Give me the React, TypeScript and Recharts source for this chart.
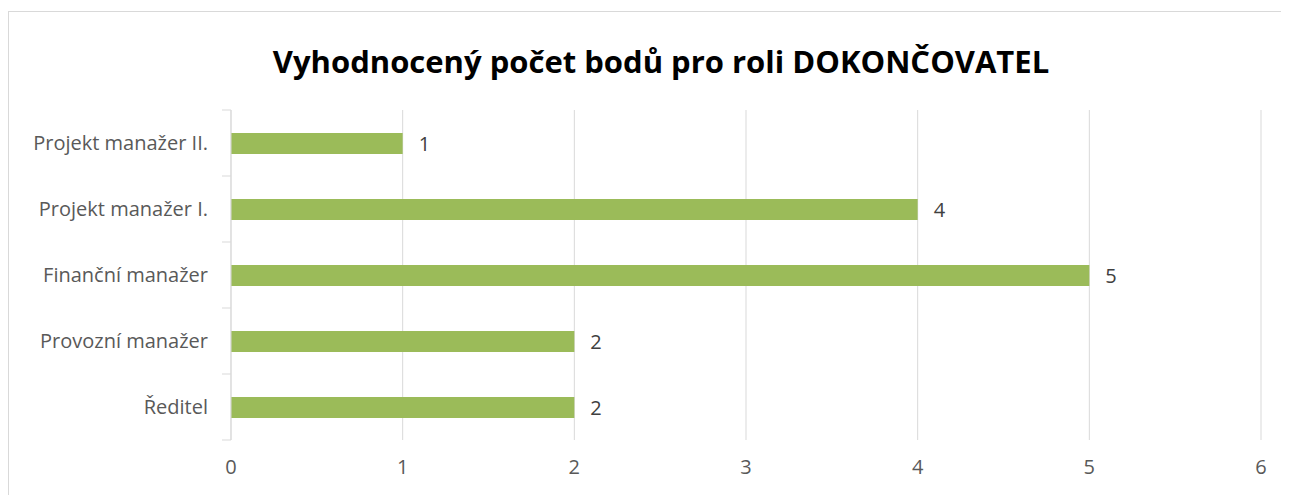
import React from 'react';
import {
  BarChart,
  Bar,
  XAxis,
  YAxis,
  CartesianGrid,
  LabelList,
} from 'recharts';

const roles = [
  'Projekt manažer II.',
  'Projekt manažer I.',
  'Finanční manažer',
  'Provozní manažer',
  'Ředitel',
];
const points = [1, 4, 5, 2, 2];
const xTicks = [0, 1, 2, 3, 4, 5, 6];

const data = roles.map((role, i) => ({ role, body: points[i] }));

const FONT = '"Open Sans", Lato, sans-serif';
const BAND = 66;

const RoleTick = ({ x, y, payload, index }: any) => (
  <g>
    <text
      x={x - 23}
      y={y}
      dy="0.35em"
      textAnchor="end"
      fill="#595959"
      fontSize={20}
      fontFamily={FONT}
    >
      {payload.value}
    </text>
    <line x1={x - 9} x2={x} y1={y - BAND / 2} y2={y - BAND / 2} stroke="#d9d9d9" />
    {index === roles.length - 1 && (
      <line x1={x - 9} x2={x} y1={y + BAND / 2} y2={y + BAND / 2} stroke="#d9d9d9" />
    )}
  </g>
);

export default function App() {
  return (
    <div style={{ position: 'relative', width: 1281, height: 487, overflow: 'hidden' }}>
      <div
        style={{
          position: 'absolute',
          left: 0,
          top: 3,
          width: 1400,
          height: 600,
          border: '1px solid #d9d9d9',
        }}
      />
      <div
        style={{
          position: 'absolute',
          left: 0,
          width: 1306,
          top: 35,
          lineHeight: '36px',
          textAlign: 'center',
          fontFamily: FONT,
          fontWeight: 'bold',
          fontSize: 31,
          color: '#000',
        }}
      >
        Vyhodnocený počet bodů pro roli DOKONČOVATEL
      </div>
      <BarChart
        width={1281}
        height={487}
        data={data}
        layout="vertical"
        margin={{ top: 102, right: 28, left: 0, bottom: 25 }}
      >
        <CartesianGrid horizontal={false} stroke="#d9d9d9" />
        <XAxis
          type="number"
          domain={[0, 6]}
          ticks={xTicks}
          axisLine={false}
          tickLine={false}
          tickSize={0}
          tickMargin={20}
          height={30}
          tick={{ fill: '#595959', fontSize: 20, fontFamily: FONT }}
        />
        <YAxis
          type="category"
          dataKey="role"
          width={223}
          axisLine={{ stroke: '#d9d9d9' }}
          tickLine={false}
          tickSize={0}
          tickMargin={0}
          tick={<RoleTick />}
        />
        <Bar dataKey="body" fill="#9bbb59" barSize={21} isAnimationActive={false}>
          <LabelList
            dataKey="body"
            position="right"
            offset={16}
            fill="#404040"
            fontSize={20}
            fontFamily={FONT}
          />
        </Bar>
      </BarChart>
    </div>
  );
}
